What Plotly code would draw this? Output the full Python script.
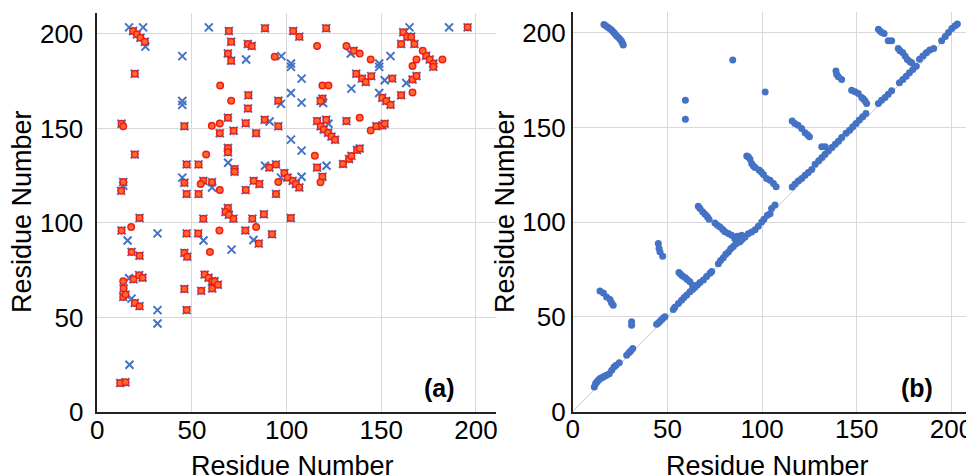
import plotly.graph_objects as go

# ---------------- Panel (a) data ----------------
# contacts present in both sets (blue cross + red circle)
both_x = [18.9, 20.9, 22.8, 25.1, 19.8, 12.8, 46, 69.5, 70.7, 79.5, 81.6, 69, 70.7, 88.6, 79.8, 79.6, 95.6, 69,
          78.4, 88.4, 95.6, 64.7, 72, 83.9, 69, 69, 19.8, 47.2, 53.5, 72.5, 72.5, 90.9, 94.4, 98.8, 100.5, 46,
          13.7, 12.6, 47.2, 53.5, 56, 60.6, 78.4, 82.6, 85.6, 94.4,
          103.5, 106.7, 120.9, 135.4, 136.8, 139.8, 141.8, 144.7, 155.8, 118.9, 117.9, 150.5, 152.6, 154.9,
          160.5, 166.5, 168.6, 161.6, 163.7, 165.8, 160.5, 167.5, 173.7, 175.6, 177.5, 177.5, 195.6, 116.1,
          118, 119.6, 121.9, 123.7, 125.6, 120.9, 131.6, 147.4, 150.5, 151.8, 116.1, 129.8, 133, 134.2, 137.2,
          138.6, 118.9, 103.2, 104.9, 106.7,
          22.3, 12.8, 47.2, 18.1, 22.3, 46, 47.5, 13.9, 19.1, 22.1, 23.9, 13.7, 14.9, 19.8, 22.3, 46, 47.2,
          12.1, 14.9, 56, 69, 67.7, 69.5, 71.9, 81.9, 88, 53.3, 78.2, 85.3, 92.3, 56.7, 58.8, 60.7, 61.9, 63.7,
          54.9, 60.7, 102.2]
both_y = [201.6, 199.8, 198, 195.9, 179, 152.5, 151.2, 201.6, 195.9, 194.7, 193.6, 189.7, 185.8, 203, 167.6,
          160.6, 164.7, 155.7, 152.8, 154.6, 151.2, 147.5, 148.8, 147.5, 139.7, 137.4, 136.2, 131, 131, 128.5,
          127.1, 129.4, 131, 126.4, 124.1, 121.3, 121.7, 117, 115.4, 115.4, 122.3, 121.6, 117.4, 122.3, 120.6,
          115.4,
          201.6, 198.6, 203, 191.1, 179, 176.4, 174.6, 177.7, 176.4, 165.8, 164.5, 166.3, 164.5, 162.6, 167.6,
          175.9, 177.8, 200.9, 198.6, 198.6, 194.7, 194.7, 188.5, 186.5, 184.4, 182.6, 203.5, 153.9, 151.2,
          149.5, 147.7, 145.7, 144, 154.6, 153.9, 151.2, 151.6, 152.5, 129.4, 131.2, 133.9, 135.5, 138.6, 139.4,
          124.5, 122.3, 120.6, 118.8,
          102.6, 96, 94.5, 84.7, 82.7, 84.2, 82.2, 65.3, 70.2, 72.4, 71, 60.9, 62.1, 57.7, 56, 65.1, 53.9,
          15.3, 15.7, 102.3, 107.9, 105.8, 104.4, 102.3, 102.3, 104.6, 94.5, 96, 89.1, 94, 72.7, 71, 69.2,
          69.2, 67.3, 64.1, 65.3, 102.6]

# blue crosses only
cross_only_x = [16.8, 24.2, 25.4, 44.9, 44.9, 44.9, 58.9, 78.6, 97.2, 97, 91, 69.1, 88.6, 97, 44.9, 13.7, 60.6,
                133.9, 154.9, 148.9, 148.9, 102.3, 102.3, 107.9, 134.2, 151.8, 102.3, 107.9, 119.3, 148.9,
                163.2, 164.9, 185.8, 122.1, 102.3, 107.9, 121.1, 107.9,
                16, 31.8, 16.8, 18.1, 31.8, 31.8, 17, 56.1, 70.9, 82.5]
cross_only_y = [203.5, 203.5, 193.3, 188.3, 164.5, 162.5, 203.5, 186.5, 188.3, 163, 153.7, 131.9, 130.3, 124,
                124, 119.7, 118.8,
                189.7, 188.3, 184.4, 182.6, 184.4, 182.6, 176.4, 171.1, 175.5, 168.8, 163.7, 163.5, 168.8,
                174.1, 203.5, 203.5, 152.5, 144.1, 138.3, 130.3, 124.5,
                90.7, 94.5, 70.8, 60, 53.9, 46.8, 25, 90.7, 85.9, 91]

# red circles only
circle_only_x = [13.7, 93.7, 64.9, 70.7, 60.5, 64.7, 57.5, 95.6, 54.6, 64.7,
                 116.1, 131.6, 138.6, 144.4, 118.9, 122.1, 166.5, 166.5, 168.6, 171.9, 182.3, 138.6, 144.4,
                 114.9, 117.9,
                 17.9, 13.7, 64.5, 83.9, 59.5]
circle_only_y = [151.2, 188, 172.7, 164.7, 151.4, 152.6, 136.2, 121.7, 120.6, 117.4,
                 193.6, 193.6, 189.7, 186.5, 172.7, 172.7, 169, 183, 186.5, 191.1, 186.5, 155.7, 148.9,
                 135.6, 121.6,
                 97.9, 69.2, 96, 97.9, 84.7]

# ---------------- Panel (b) data ----------------
contact_x = [
    # near-diagonal band
    11.4, 12.1, 12.7, 13.5, 14.4, 15.3, 16.2, 17.0, 17.9, 19.3, 20.6, 21.8, 22.9, 24.6,
    28.5, 29.7, 30.6, 31.7,
    44.3, 45.2, 46.1, 47.0, 47.9, 48.7,
    53.1, 53.9,
    55.8, 57.5, 58.8, 60.2, 61.9, 63.3, 64.6, 65.8, 67.2, 69.0, 70.7, 72.5, 73.4,
    76.9, 78.1, 79.5, 80.8, 82.2, 83.4, 84.8, 86.2, 87.5, 89.2, 91.0, 92.7, 94.5, 96.3, 98.0, 99.8, 101.0,
    102.8, 104.2, 105.0, 106.8,
    115.9, 117.4, 119.1, 120.9, 122.7, 124.4, 126.2,
    128.0, 129.9, 131.6, 133.2, 135.0, 136.8, 138.6, 140.3, 142.0,
    144.3, 146.2, 147.9, 149.6, 151.3, 153.1, 154.8,
    161.4, 163.1, 164.9, 166.6, 168.4,
    172.5, 174.3, 176.1, 177.8, 179.6, 181.4,
    183.1, 184.9, 186.7, 188.5, 190.6,
    194.8, 196.7, 198.4, 200.2, 201.9, 203.1,
    # off-diagonal contacts
    16.5, 17.5, 18.5, 19.5, 20.5, 21.5, 22.2, 23.0, 24.0, 25.0, 25.8, 26.3, 26.7,
    84.5, 59.5, 59.5, 101.6,
    91.9, 92.7, 93.6, 94.5, 95.4, 96.3, 98.4, 99.5, 100.7, 102.4, 104.2, 106.0, 107.4,
    115.9, 117.3, 119.0, 120.9, 122.7, 124.0, 125.0,
    131.5, 133.3,
    139.0, 139.4, 140.3, 142.0,
    147.3, 149.1, 150.8, 152.6, 153.5, 154.3, 155.2,
    161.4, 162.3, 163.2, 164.4,
    166.6, 168.4,
    171.9, 172.8, 174.2, 175.5, 176.7, 178.1, 179.0,
    14.4, 16.2, 17.9, 19.7, 20.5, 21.4,
    31.1, 31.1,
    45.2, 45.6, 46.1, 47.5,
    56.1, 57.0, 58.0, 59.3, 60.5, 61.9, 63.3,
    66.3, 67.2, 68.6, 69.9, 71.1, 72.0,
    75.1, 76.4, 77.8, 79.2, 80.4, 82.2, 83.9, 85.6, 86.9, 89.2, 88.3, 87.0, 90.0,
]
contact_y = [
    13.0, 14.8, 15.6, 16.5, 17.4, 17.8, 18.2, 18.7, 19.1, 20.0, 21.8, 23.5, 24.4, 25.8,
    29.7, 31.0, 32.0, 33.3,
    46.1, 46.8, 47.7, 48.6, 49.5, 50.0,
    53.9, 55.0,
    57.0, 58.8, 60.2, 61.5, 63.3, 64.5, 65.6, 66.8, 68.1, 69.5, 71.3, 73.0, 73.9,
    78.0, 79.8, 81.2, 83.0, 84.2, 86.0, 87.2, 88.6, 89.5, 90.7, 92.1, 93.9, 94.8, 96.0, 97.8, 100.1, 101.5,
    103.6, 104.5, 107.2, 109.0,
    118.6, 120.1, 121.8, 123.1, 124.8, 126.2, 127.8,
    130.6, 132.4, 134.2, 135.9, 137.7, 139.4, 141.2, 142.8, 144.7,
    146.9, 148.6, 150.4, 152.1, 153.9, 155.7, 157.4,
    162.7, 164.4, 165.9, 167.6, 169.4,
    173.6, 175.4, 177.1, 178.9, 180.6, 182.4,
    186.0, 187.7, 189.5, 190.9, 191.7,
    195.8, 198.0, 200.2, 202.3, 203.7, 204.6,
    204.4, 203.8, 203.0, 202.3, 201.5, 200.5, 199.6, 198.6, 197.6, 196.6, 195.5, 194.5, 193.6,
    185.6, 164.4, 154.3, 168.8,
    135.0, 134.5, 133.3, 131.0, 129.6, 128.9, 127.5, 126.5, 125.2, 123.1, 122.2, 120.4, 118.7,
    153.4, 152.1, 151.2, 149.5, 147.2, 146.2, 145.1,
    139.8, 139.8,
    179.8, 178.0, 176.8, 175.4,
    169.7, 168.9, 168.0, 165.9, 165.0, 164.1, 162.7,
    201.9, 201.0, 200.2, 199.7,
    195.8, 195.8,
    191.7, 190.5, 189.6, 187.8, 185.9, 184.7, 184.2,
    63.7, 62.6, 60.5, 59.1, 57.5, 56.1,
    47.4, 45.6,
    88.7, 86.1, 84.3, 82.0,
    73.4, 72.5, 71.5, 70.8, 69.7, 68.5, 66.7,
    108.4, 107.2, 105.5, 104.2, 102.8, 101.6,
    99.6, 98.4, 97.5, 96.1, 94.9, 94.0, 93.1, 91.3, 92.5, 93.1, 89.6, 90.5, 91.5,
]
diag_ends = [0, 205]

tick_vals = [0, 50, 100, 150, 200]
tick_text = ["0", "50", "100", "150", "200"]
axis_title = "Residue Number"

BLUE = "#4472c4"
FONT = "Liberation Sans, Arial, Helvetica, sans-serif"

# page body adds an 8px margin; work in reference pixels and convert
W, H, OFF = 974, 476, 8


def px(x):
    return (x - OFF) / W


def py(y):
    return 1 - (y - OFF) / H


fig = go.Figure()

fig.add_trace(go.Scatter(
    x=both_x + cross_only_x, y=both_y + cross_only_y, mode="markers",
    marker=dict(symbol="x-thin", size=8, line=dict(color=BLUE, width=2)),
    xaxis="x", yaxis="y", showlegend=False, hoverinfo="x+y"))
fig.add_trace(go.Scatter(
    x=both_x + circle_only_x, y=both_y + circle_only_y, mode="markers",
    marker=dict(symbol="circle", size=6.5, color="#ff6a2a", line=dict(color="#ee1c1c", width=1.5)),
    xaxis="x", yaxis="y", showlegend=False, hoverinfo="x+y"))

fig.add_trace(go.Scatter(
    x=diag_ends, y=diag_ends, mode="lines", line=dict(color="#c8c8c8", width=1),
    xaxis="x2", yaxis="y2", showlegend=False, hoverinfo="skip"))
fig.add_trace(go.Scatter(
    x=contact_x, y=contact_y, mode="markers",
    marker=dict(symbol="circle", size=7, color=BLUE),
    xaxis="x2", yaxis="y2", showlegend=False, hoverinfo="x+y"))

axis_common = dict(
    tickvals=tick_vals, ticktext=tick_text, showgrid=True, gridcolor="#d9d9d9", gridwidth=1,
    zeroline=False, showline=True, linecolor="#222222", linewidth=1.5, ticks="",
    tickfont=dict(family=FONT, size=26, color="black"), fixedrange=True,
    automargin=False, ticklabeloverflow="allow",
)

title_font = dict(family=FONT, size=27, color="black")

fig.update_layout(
    width=W, height=H, margin=dict(l=0, r=0, t=0, b=0),
    paper_bgcolor="white", plot_bgcolor="white",
    xaxis=dict(domain=[px(97.3), px(496)], range=[0, 210.6], anchor="y", ticklabelstandoff=-6, **axis_common),
    yaxis=dict(domain=[py(412), py(13)], range=[0, 211.1], anchor="x", ticklabelstandoff=7, **axis_common),
    xaxis2=dict(domain=[px(572.7), px(971)], range=[0, 210.3], anchor="y2", ticklabelstandoff=-6, **axis_common),
    yaxis2=dict(domain=[py(411.5), py(12)], range=[0, 211], anchor="x2", ticklabelstandoff=0, **axis_common),
    annotations=[
        dict(text=axis_title, x=px(292), y=py(466), xref="paper", yref="paper",
             showarrow=False, xanchor="center", yanchor="middle", font=title_font),
        dict(text=axis_title, x=px(767), y=py(466), xref="paper", yref="paper",
             showarrow=False, xanchor="center", yanchor="middle", font=title_font),
        dict(text=axis_title, x=px(22), y=py(212), xref="paper", yref="paper", textangle=-90,
             showarrow=False, xanchor="center", yanchor="middle", font=title_font),
        dict(text=axis_title, x=px(505), y=py(212), xref="paper", yref="paper", textangle=-90,
             showarrow=False, xanchor="center", yanchor="middle", font=title_font),
        dict(text="<b>(a)</b>", x=px(439), y=py(388), xref="paper", yref="paper",
             showarrow=False, xanchor="center", yanchor="middle", font=dict(family=FONT, size=25, color="black")),
        dict(text="<b>(b)</b>", x=px(917), y=py(388), xref="paper", yref="paper",
             showarrow=False, xanchor="center", yanchor="middle", font=dict(family=FONT, size=25, color="black")),
    ],
)

fig.write_html("out.html")
